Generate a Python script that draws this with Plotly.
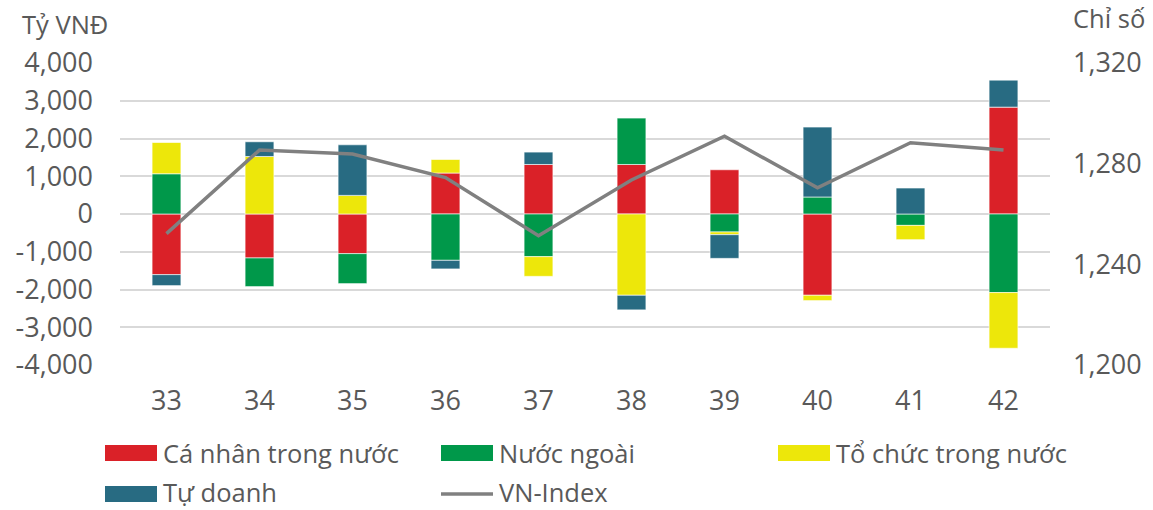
import plotly.graph_objects as go

weeks = ["33", "34", "35", "36", "37", "38", "39", "40", "41", "42"]
ca_nhan = [-1606, -1164, -1050, 1085, 1312, 1312, 1172, -2153, 0, 2831]
nuoc_ngoai = [1066, -759, -794, -1227, -1130, 1228, -476, 450, -302, -2082]
to_chuc = [828, 1524, 493, 359, -521, -2153, -72, -141, -378, -1474]
tu_doanh = [-291, 389, 1340, -228, 328, -387, -627, 1852, 688, 714]
vn_index = [1252.2, 1285.4, 1283.8, 1274.5, 1251.4, 1273.5, 1290.9, 1270.4, 1288.3, 1285.4]

left_ticks = [-4000, -3000, -2000, -1000, 0, 1000, 2000, 3000, 4000]
left_text = ["-4,000", "-3,000", "-2,000", "-1,000", "0", "1,000", "2,000", "3,000", "4,000"]
right_ticks = [1200, 1240, 1280, 1320]
right_text = ["1,200", "1,240", "1,280", "1,320"]

FONT = "Open Sans"
TXT = "#595959"
TICK_SIZE = 27
TEXT_SIZE = 25.5

series = [
    ("Cá nhân trong nước", ca_nhan, "#DA2128"),
    ("Nước ngoài", nuoc_ngoai, "#00984A"),
    ("Tổ chức trong nước", to_chuc, "#EDE70A"),
    ("Tự doanh", tu_doanh, "#286B82"),
]
LINE_NAME = "VN-Index"
LINE_COLOR = "#808080"

fig = go.Figure()
for name, vals, col in series:
    fig.add_trace(go.Bar(x=weeks, y=vals, name=name, showlegend=False,
                         marker=dict(color=col, line=dict(color="white", width=0.6))))

fig.add_trace(go.Scatter(x=weeks, y=vn_index, name=LINE_NAME, yaxis="y2", mode="lines", showlegend=False,
                         line=dict(color=LINE_COLOR, width=3.5)))

L, R, T, B = 120, 103, 63, 145
W, H = 1153, 510
pw, ph = W - L - R, H - T - B


def px_x(x):
    return (x - L) / pw


def px_y(y):
    return (H - B - y) / ph


# Custom legend (swatches + real text labels)
shapes = []
annotations = []
legend_items = [
    (series[0][0], series[0][2], "bar", 105, 453),
    (series[1][0], series[1][2], "bar", 441, 453),
    (series[2][0], series[2][2], "bar", 778, 453),
    (series[3][0], series[3][2], "bar", 105, 494),
    (LINE_NAME, LINE_COLOR, "line", 441, 494),
]
for label, col, kind, x0, yc in legend_items:
    if kind == "bar":
        shapes.append(dict(type="rect", xref="paper", yref="paper",
                           x0=px_x(x0), x1=px_x(x0 + 52), y0=px_y(yc - 8), y1=px_y(yc + 8),
                           fillcolor=col, line=dict(width=0)))
    else:
        shapes.append(dict(type="line", xref="paper", yref="paper",
                           x0=px_x(x0), x1=px_x(x0 + 52), y0=px_y(yc), y1=px_y(yc),
                           line=dict(color=col, width=3.5)))
    ty = yc - 2 if yc > 480 else yc
    annotations.append(dict(text=label, xref="paper", yref="paper", x=px_x(x0 + 56), y=px_y(ty),
                            xanchor="left", yanchor="middle", showarrow=False,
                            font=dict(size=TEXT_SIZE, color=TXT, family=FONT)))

annotations.append(dict(text="Tỷ VNĐ", xref="paper", yref="paper", x=px_x(20), y=px_y(24),
                        xanchor="left", yanchor="middle", showarrow=False,
                        font=dict(size=TEXT_SIZE, color=TXT, family=FONT)))
annotations.append(dict(text="Chỉ số", xref="paper", yref="paper", x=px_x(1071), y=px_y(18),
                        xanchor="left", yanchor="middle", showarrow=False,
                        font=dict(size=TEXT_SIZE, color=TXT, family=FONT)))

fig.update_layout(
    width=W, height=H,
    margin=dict(l=L, r=R, t=T, b=B, autoexpand=False),
    barmode="relative",
    bargap=0.69,
    plot_bgcolor="white", paper_bgcolor="white",
    font=dict(family=FONT, size=TEXT_SIZE, color=TXT),
    showlegend=False,
    xaxis=dict(type="category", showgrid=False, showline=False, ticks="", ticklabelstandoff=17,
               tickfont=dict(size=TICK_SIZE, color=TXT)),
    yaxis=dict(range=[-4000, 4000], tickvals=left_ticks, ticktext=left_text, showgrid=True,
               gridcolor="#D9D9D9", gridwidth=1.5, zeroline=True, zerolinecolor="#D9D9D9", zerolinewidth=1.5,
               showline=False, ticks="", ticklabelstandoff=26, tickfont=dict(size=TICK_SIZE, color=TXT)),
    yaxis2=dict(range=[1200, 1320], tickvals=right_ticks, ticktext=right_text, overlaying="y", side="right",
                showgrid=False, zeroline=False, showline=False, ticks="", ticklabelstandoff=22,
                tickfont=dict(size=TICK_SIZE, color=TXT)),
    shapes=shapes,
    annotations=annotations,
)

fig.write_html("out.html", config={"displayModeBar": False},
               post_script="document.body.style.margin='0';document.body.style.overflow='hidden';")
